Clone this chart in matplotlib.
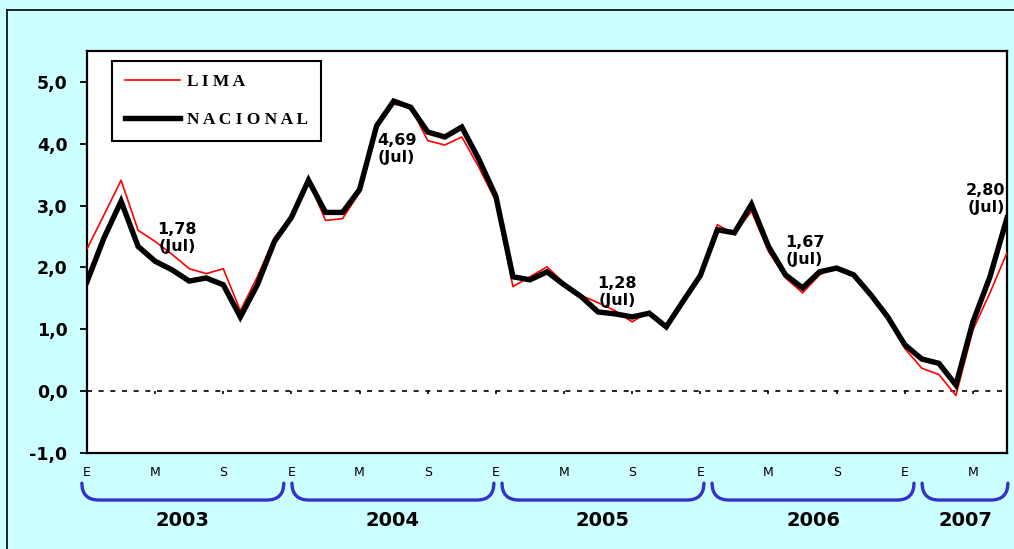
import numpy as np
import matplotlib
matplotlib.use("Agg")
import matplotlib.pyplot as plt
from matplotlib.path import Path
from matplotlib.patches import PathPatch
from matplotlib.lines import Line2D
import matplotlib.transforms as mtransforms

# ── data (monthly, Jan 2003 - Jul 2007) ───────────────────────────────────────
years = ["2003", "2004", "2005", "2006", "2007"]
months_per_year = [12, 12, 12, 12, 7]

nacional = [
    1.77, 2.48, 3.07, 2.34, 2.10, 1.96, 1.78, 1.83, 1.72, 1.20, 1.72, 2.42,
    2.81, 3.41, 2.89, 2.89, 3.26, 4.29, 4.69, 4.59, 4.19, 4.11, 4.27, 3.75,
    3.15, 1.85, 1.80, 1.93, 1.72, 1.53, 1.28, 1.25, 1.20, 1.26, 1.04, 1.46,
    1.87, 2.61, 2.56, 3.02, 2.34, 1.88, 1.67, 1.93, 1.99, 1.88, 1.56, 1.20,
    0.75, 0.52, 0.45, 0.10, 1.12, 1.85, 2.80,
]
lima = [
    2.30, 2.85, 3.41, 2.60, 2.42, 2.21, 1.98, 1.90, 1.98, 1.30, 1.85, 2.48,
    2.84, 3.41, 2.76, 2.79, 3.21, 4.27, 4.64, 4.59, 4.05, 3.98, 4.11, 3.62,
    3.07, 1.69, 1.85, 2.01, 1.75, 1.55, 1.43, 1.30, 1.12, 1.29, 1.04, 1.46,
    1.87, 2.69, 2.54, 2.91, 2.26, 1.83, 1.59, 1.88, 2.01, 1.88, 1.56, 1.23,
    0.69, 0.37, 0.27, -0.07, 0.99, 1.59, 2.24,
]
tick_labels = ["E", "M", "S"]
jul_idx = [6, 18, 30, 42, 54]
# text offsets (pixels) of the July labels from their points
jul_offsets = [(-12, 43), (3, -48), (19, 20), (2, 37), (-21, 19)]

BG = "#CCFFFF"
BRACE = "#3333CC"

x = np.arange(len(nacional))

fig = plt.figure(figsize=(10.14, 5.49), dpi=100, facecolor=BG)
ax = fig.add_axes([87 / 1014, 1 - 453 / 549, 920 / 1014, 402 / 549])
ax.set_facecolor("white")

ax.plot(x, lima, color="#FF0000", linewidth=1.2, label="L I M A", zorder=3)
ax.plot(x, nacional, color="black", linewidth=3.9, label="N A C I O N A L",
        solid_joinstyle="miter", zorder=4)

ax.axhline(0, color="black", linestyle=(0, (3, 4)), linewidth=1.2, zorder=2)

ax.set_xlim(0, len(nacional) - 1)
ax.set_ylim(-1, 5.5)
ax.set_yticks(np.arange(-1, 6, 1))
ax.set_yticklabels([f"{v:.1f}".replace(".", ",") for v in np.arange(-1, 6, 1)],
                   fontsize=12.5, fontweight="bold")
ax.tick_params(axis="y", direction="out", length=5, width=1.3, pad=9)

xt = np.arange(0, len(nacional), 4)
ax.set_xticks(xt)
ax.set_xticklabels([tick_labels[i % 3] for i in range(len(xt))], fontsize=9)
ax.tick_params(axis="x", length=0, pad=9)
# little marks on the zero line
ax.vlines(xt, -0.05, 0, color="black", linewidth=1.2, zorder=2)

for s in ax.spines.values():
    s.set_linewidth(1.6)

# July labels
for i, (dx, dy) in zip(jul_idx, jul_offsets):
    v = nacional[i]
    ax.annotate(f"{v:.2f}".replace(".", ",") + "\n(Jul)", xy=(i, v),
                xytext=(dx, dy), textcoords="offset pixels",
                ha="center", va="center", multialignment="center",
                fontsize=11.5, fontweight="bold", linespacing=1.15, zorder=5)

# legend
leg = ax.legend(loc="upper left", bbox_to_anchor=(0.027, 0.975), borderaxespad=0,
                fancybox=False, edgecolor="black", framealpha=1,
                prop={"family": "Liberation Serif", "weight": "bold", "size": 12.5},
                handlelength=3.2, handletextpad=0.4, labelspacing=1.25,
                borderpad=0.75)
leg.get_frame().set_linewidth(1.5)

# year braces below the axis
trans = mtransforms.blended_transform_factory(ax.transData, ax.transAxes)
y_top, y_bot = -0.075, -0.117
start = 0
for k, (yr, n) in enumerate(zip(years, months_per_year)):
    x0 = start - 0.3 + 0.33 * k
    x1 = x0 + 11.85 if n == 12 else start + n - 1 + 0.05
    r = 1.0
    verts = [(x0, y_top), (x0, y_bot), (x0 + r, y_bot),
             (x1 - r, y_bot), (x1, y_bot), (x1, y_top)]
    codes = [Path.MOVETO, Path.CURVE3, Path.CURVE3,
             Path.LINETO, Path.CURVE3, Path.CURVE3]
    ax.add_patch(PathPatch(Path(verts, codes), facecolor="none", edgecolor=BRACE,
                           linewidth=2.4, transform=trans, clip_on=False,
                           capstyle="round"))
    ax.text((x0 + x1) / 2, -0.167, yr, transform=trans, ha="center", va="center",
            fontsize=14, fontweight="bold")
    start += n

# outer frame (top and left edges)
fig.add_artist(Line2D([7 / 1014, 7 / 1014], [0, 1 - 10 / 549], color="black",
                      linewidth=1.2, transform=fig.transFigure))
fig.add_artist(Line2D([7 / 1014, 1], [1 - 10 / 549, 1 - 10 / 549], color="black",
                      linewidth=1.2, transform=fig.transFigure))

fig.savefig("out.png", dpi=100, facecolor=BG)
